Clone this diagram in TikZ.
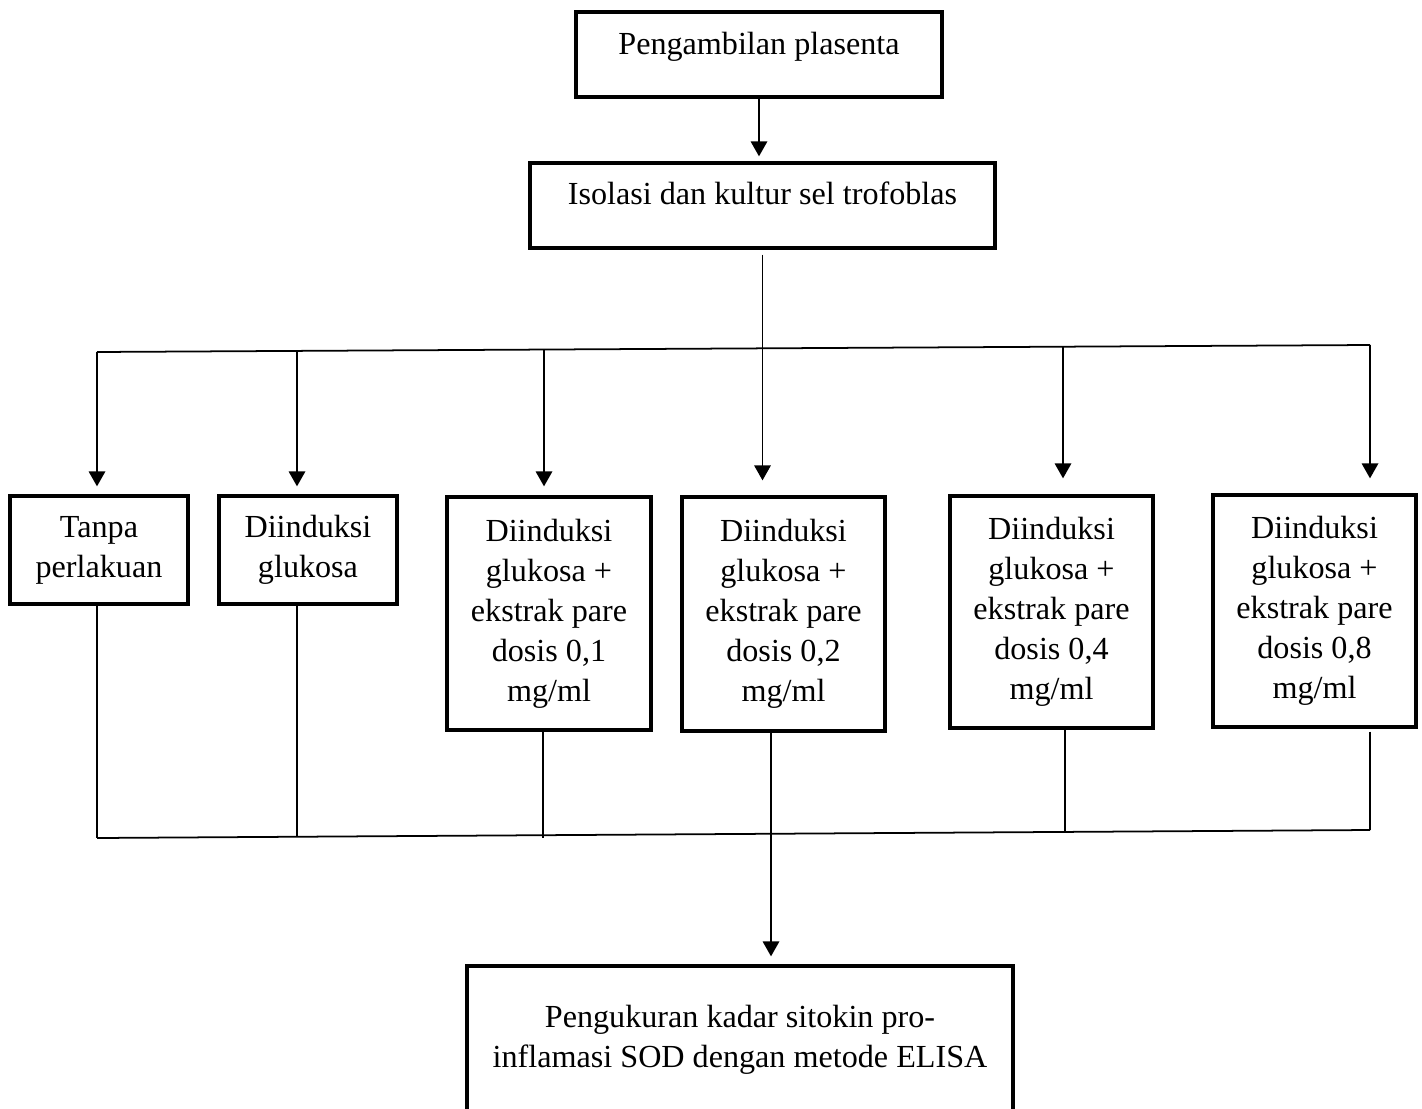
\documentclass[tikz,border=0pt]{standalone}
\usepackage{fontspec}
\setmainfont{Liberation Serif}
\usetikzlibrary{arrows.meta, positioning}
\tikzset{
  kotak/.style={draw, line width=1.9pt, align=center, inner sep=0pt,
    font=\fontsize{18.3}{22.8}\selectfont},
  garis/.style={line width=1pt},
  panah/.style={garis, -{Triangle[width=0.33cm, length=0.3cm]}},
}

\begin{document}
\begin{tikzpicture}[x=0.02cm, y=-0.02cm]
  \useasboundingbox (0,0) rectangle (1422,1108);
  \clip (0,0) rectangle (1422,1108);
  % kotak-kotak
  \node[kotak, minimum width=7.32cm, text height=0.86cm, text depth=0.84cm] (ambil) at (759,54.5) {Pengambilan plasenta};
  \node[kotak, minimum width=9.3cm, text height=0.84cm, text depth=0.86cm] (isol) at (762.5,205.5) {Isolasi dan kultur sel trofoblas};
  \node[kotak, minimum width=3.56cm, minimum height=2.16cm] (k1) at (99,550) {Tanpa\\perlakuan};
  \node[kotak, minimum width=3.56cm, minimum height=2.16cm] (k2) at (308,550) {Diinduksi\\glukosa};
  \node[kotak, minimum width=4.08cm, minimum height=4.66cm] (k3) at (549,613.5) {Diinduksi\\glukosa +\\ekstrak pare\\dosis 0,1\\mg/ml};
  \node[kotak, minimum width=4.06cm, minimum height=4.68cm] (k4) at (783.5,614) {Diinduksi\\glukosa +\\ekstrak pare\\dosis 0,2\\mg/ml};
  \node[kotak, minimum width=4.06cm, minimum height=4.64cm] (k5) at (1051.5,612) {Diinduksi\\glukosa +\\ekstrak pare\\dosis 0,4\\mg/ml};
  \node[kotak, minimum width=4.06cm, minimum height=4.64cm] (k6) at (1314.5,611) {Diinduksi\\glukosa +\\ekstrak pare\\dosis 0,8\\mg/ml};
  \node[kotak, minimum width=10.92cm, minimum height=2.96cm] (ukur) at (740,1040) {Pengukuran kadar sitokin pro-\\inflamasi SOD dengan metode ELISA};

  % cabang atas
  \coordinate (a1) at (97,352);
  \coordinate (a2) at (297,351);
  \coordinate (a3) at (544,349.5);
  \coordinate (a5) at (1063,346.7);
  \coordinate (a6) at (1370,345);
  \draw[garis] (a1) -- (a6);
  \draw[panah, shorten >=0.1cm] (ambil.south) -- (ambil.south |- isol.north);
  \draw[panah, shorten <=0.1cm, shorten >=0.3cm] (isol.south) -- (isol.south |- k4.north);
  \draw[panah, shorten >=0.16cm] (a1) -- (a1 |- k1.north);
  \draw[panah, shorten >=0.16cm] (a2) -- (a2 |- k2.north);
  \draw[panah, shorten >=0.18cm] (a3) -- (a3 |- k3.north);
  \draw[panah, shorten >=0.32cm] (a5) -- (a5 |- k5.north);
  \draw[panah, shorten >=0.3cm] (a6) -- (a6 |- k6.north);

  % cabang bawah
  \coordinate (b1) at (97,838);
  \coordinate (b2) at (297,836.7);
  \coordinate (b3) at (543,835.2);
  \coordinate (b4) at (771,833.8);
  \coordinate (b5) at (1065,831.9);
  \coordinate (b6) at (1370,830);
  \draw[garis] (b1) -- (b6);
  \draw[garis] (k1.south -| b1) -- (b1);
  \draw[garis] (k2.south -| b2) -- (b2);
  \draw[garis] (k3.south -| b3) -- ([yshift=-0.05cm]b3);
  \draw[panah, shorten >=0.16cm] (k4.south -| b4) -- (b4 |- ukur.north);
  \draw[garis] (k5.south -| b5) -- (b5);
  \draw[garis, shorten <=0.06cm] (k6.south -| b6) -- (b6);
\end{tikzpicture}
\end{document}
